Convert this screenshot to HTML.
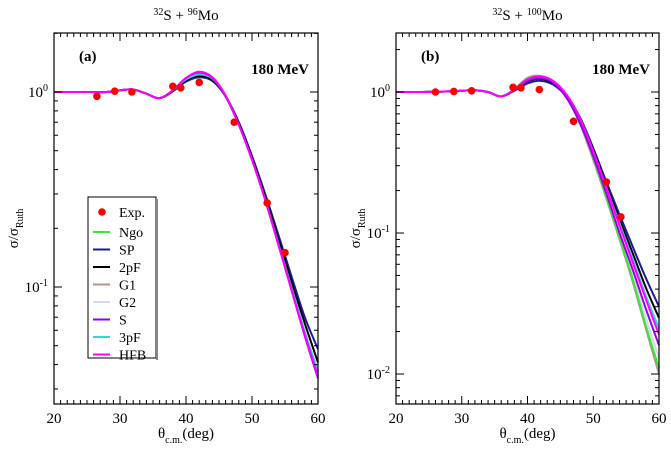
<!DOCTYPE html>
<html><head><meta charset="utf-8"><style>
body{margin:0;background:#fff}
svg{display:block;font-family:"Liberation Serif",serif}
</style></head><body>
<svg id="c" width="671" height="449" viewBox="0 0 671 449" xmlns="http://www.w3.org/2000/svg"></svg>
<script>
const thetas=[20,24,28,30,32,34,36,38,40,42,44,46,48,50,52,54,56,58,60];
const seriesNames=["Ngo","SP","2pF","G1","G2","S","3pF","HFB"];
const seriesColors=["#33ee33","#1a1aa0","#000000","#bc8f8f","#d8d8f0","#9900ee","#22dddd","#ff00ff"];
// left panel (32S + 96Mo)
const leftNgo=[1,1,1,1.02,1.03,0.98,0.93,1.02,1.17,1.24,1.17,0.95,0.68,0.45,0.28,0.165,0.097,0.058,0.036];
const leftSP=[1,1,1,1.02,1.03,0.98,0.93,1.01,1.13,1.19,1.14,0.95,0.70,0.47,0.30,0.185,0.113,0.07,0.048];
const left2pF=[1,1,1,1.02,1.03,0.98,0.93,1.01,1.15,1.21,1.15,0.95,0.69,0.46,0.29,0.177,0.106,0.065,0.041];
const leftG1=[1,1,1,1.02,1.03,0.98,0.93,1.02,1.17,1.25,1.18,0.95,0.68,0.45,0.28,0.165,0.097,0.057,0.035];
const leftG2=[1,1,1,1.02,1.03,0.98,0.93,1.02,1.17,1.25,1.18,0.95,0.68,0.45,0.28,0.165,0.097,0.057,0.035];
const leftS=[1,1,1,1.02,1.03,0.98,0.93,1.02,1.18,1.26,1.18,0.95,0.68,0.45,0.28,0.165,0.096,0.056,0.034];
const left3pF=[1,1,1,1.02,1.03,0.98,0.93,1.02,1.16,1.23,1.17,0.95,0.68,0.45,0.28,0.167,0.099,0.059,0.037];
const leftHFB=[1,1,1,1.02,1.03,0.98,0.93,1.02,1.18,1.27,1.19,0.96,0.68,0.45,0.28,0.165,0.097,0.057,0.035];
const leftExpX=[26.5,29.2,31.8,38,39.2,42,47.3,52.3,55];
const leftExpY=[0.95,1.01,1.0,1.07,1.05,1.12,0.70,0.27,0.15];
// right panel (32S + 100Mo)
const rightNgo=[1,1,1.01,1.02,1.03,1.0,0.93,1.04,1.24,1.29,1.18,0.92,0.60,0.34,0.18,0.093,0.047,0.022,0.011];
const rightSP=[1,1,1.01,1.02,1.03,1.0,0.93,1.02,1.15,1.2,1.12,0.92,0.66,0.40,0.23,0.135,0.08,0.048,0.030];
const right2pF=[1,1,1.01,1.02,1.03,1.0,0.93,1.03,1.19,1.24,1.15,0.93,0.65,0.39,0.22,0.125,0.072,0.041,0.025];
const rightG1=[1,1,1.01,1.02,1.03,1.0,0.93,1.05,1.26,1.3,1.18,0.91,0.59,0.33,0.175,0.09,0.045,0.021,0.010];
const rightG2=[1,1,1.01,1.02,1.03,1.0,0.93,1.04,1.23,1.28,1.17,0.92,0.61,0.35,0.185,0.097,0.05,0.025,0.013];
const rightS=[1,1,1.01,1.02,1.03,1.0,0.93,1.03,1.2,1.26,1.16,0.90,0.60,0.35,0.19,0.10,0.055,0.029,0.016];
const right3pF=[1,1,1.01,1.02,1.03,1.0,0.93,1.04,1.22,1.27,1.18,0.94,0.65,0.38,0.21,0.117,0.065,0.036,0.021];
const rightHFB=[1,1,1.01,1.02,1.03,1.0,0.93,1.04,1.23,1.29,1.19,0.95,0.65,0.38,0.21,0.113,0.062,0.034,0.019];
const rightExpX=[26,28.8,31.5,37.8,39,41.8,47,52,54.2];
const rightExpY=[1.0,1.01,1.02,1.08,1.07,1.04,0.62,0.23,0.13];

const NS="http://www.w3.org/2000/svg";
const svg=document.getElementById('c');
function el(t,a,p){const e=document.createElementNS(NS,t);for(const k in a)e.setAttribute(k,a[k]);(p||svg).appendChild(e);return e;}
function txt(s,a,p){const e=el('text',a,p);e.textContent=s;return e;}

function panel(cfg){
  const g=el('g',{});
  
  
  const L=cfg.L,R=cfg.R,T=33,B=404;
  const xs=v=>L+(v-20)/40*(R-L);
  const ys=v=>cfg.y0-Math.log10(v)*cfg.dec;
  // series
  const sets=cfg.series;
  const order=[3,4,0,1,2,6,5,7];
  order.forEach(i=>{
    const vals=sets[i];
    const pts=thetas.map((t,j)=>[xs(t),ys(vals[j])]);
    let d='M'+pts[0][0]+','+pts[0][1];
    for(let j=0;j<pts.length-1;j++){
      const p0=pts[Math.max(0,j-1)],p1=pts[j],p2=pts[j+1],p3=pts[Math.min(pts.length-1,j+2)];
      const c1=[p1[0]+(p2[0]-p0[0])/6,p1[1]+(p2[1]-p0[1])/6];
      const c2=[p2[0]-(p3[0]-p1[0])/6,p2[1]-(p3[1]-p1[1])/6];
      d+=` C${c1[0]},${c1[1]} ${c2[0]},${c2[1]} ${p2[0]},${p2[1]}`;
    }
    const p=el('path',{d:d,fill:'none',stroke:seriesColors[i],'stroke-width':2},g);
    
    
  });
  cfg.ex.forEach((x,i)=>{
    const c=el('circle',{cx:xs(x),cy:ys(cfg.ey[i]),r:3.8,fill:'#ff0000'},g);
    
    
  });
  const fr=el('rect',{x:L,y:T,width:R-L,height:B-T,fill:'none',stroke:'#000','stroke-width':1.2},g);
  
  
  // x ticks
  for(let v=20;v<=60;v+=1){
    const x=xs(v),len=v%10==0?8:4;
    el('line',{x1:x,y1:B,x2:x,y2:B-len,stroke:'#000'},g);
    el('line',{x1:x,y1:T,x2:x,y2:T+len,stroke:'#000'},g);
    if(v%10==0){const t=txt(String(v),{x:x,y:B+19,'font-size':15,'text-anchor':'middle'},g);
      }
  }
  // y ticks
  for(let e=cfg.emin;e<=0;e++){
    for(let m=1;m<10;m++){
      const v=m*Math.pow(10,e);const y=ys(v);
      if(y<T-0.5||y>B+0.5)continue;
      const len=m==1?8:4;
      el('line',{x1:L,y1:y,x2:L+len,y2:y,stroke:'#000'},g);
      el('line',{x1:R,y1:y,x2:R-len,y2:y,stroke:'#000'},g);
      if(m==1){const t=el('text',{x:L-6,y:y+5,'font-size':15,'text-anchor':'end'},g);
        t.innerHTML='10<tspan dy="-6" font-size="10">'+e+'</tspan>';
        }
    }
  }
  const xt=el('text',{x:(L+R)/2,y:438,'font-size':15,'text-anchor':'middle'},g);
  xt.innerHTML='θ<tspan dy="5" font-size="10">c.m.</tspan><tspan dy="-5">(deg)</tspan>';
  
  const yt=el('text',{transform:`translate(${L-36},${(T+B)/2+10}) rotate(-90)`,'font-size':15,'text-anchor':'middle'},g);
  yt.innerHTML='σ/σ<tspan dy="5" font-size="10">Ruth</tspan>';
  
  const tt=el('text',{x:(L+R)/2,y:20,'font-size':15,'text-anchor':'middle'},g);
  tt.innerHTML='<tspan dy="-5" font-size="10">32</tspan><tspan dy="5">S + </tspan><tspan dy="-5" font-size="10">'+cfg.A+'</tspan><tspan dy="5">Mo</tspan>';
  
  const pl=txt(cfg.lab,{x:L+25,y:61,'font-size':15,'font-weight':'bold'},g);
  
  const en=txt('180 MeV',{x:R-9,y:74,'font-size':15,'font-weight':'bold','text-anchor':'end'},g);
  
  return g;
}
panel({name:'panel-a',L:54,R:318,y0:92,dec:195,emin:-2,A:'96',lab:'(a)',
  series:[leftNgo,leftSP,left2pF,leftG1,leftG2,leftS,left3pF,leftHFB],ex:leftExpX,ey:leftExpY});
panel({name:'panel-b',L:396,R:659,y0:92,dec:141,emin:-3,A:'100',lab:'(b)',
  series:[rightNgo,rightSP,right2pF,rightG1,rightG2,rightS,right3pF,rightHFB],ex:rightExpX,ey:rightExpY});
// legend
const lg=el('g',{});


el('rect',{x:88,y:197,width:68,height:161,fill:'#fff',stroke:'#000'},lg);
el('rect',{x:156,y:199,width:2,height:161,fill:'#888'},lg);
const ec=el('circle',{cx:102,cy:212,r:3.8,fill:'#ff0000'},lg);


txt('Exp.',{x:119,y:217,'font-size':14},lg);
seriesNames.forEach((n,i)=>{
  const y=232+i*17.5;
  const l=el('line',{x1:93,y1:y,x2:110,y2:y,stroke:seriesColors[i],'stroke-width':2},lg);
  
  
  txt(n,{x:119,y:y+5,'font-size':14},lg);
});
</script>
</body></html>
